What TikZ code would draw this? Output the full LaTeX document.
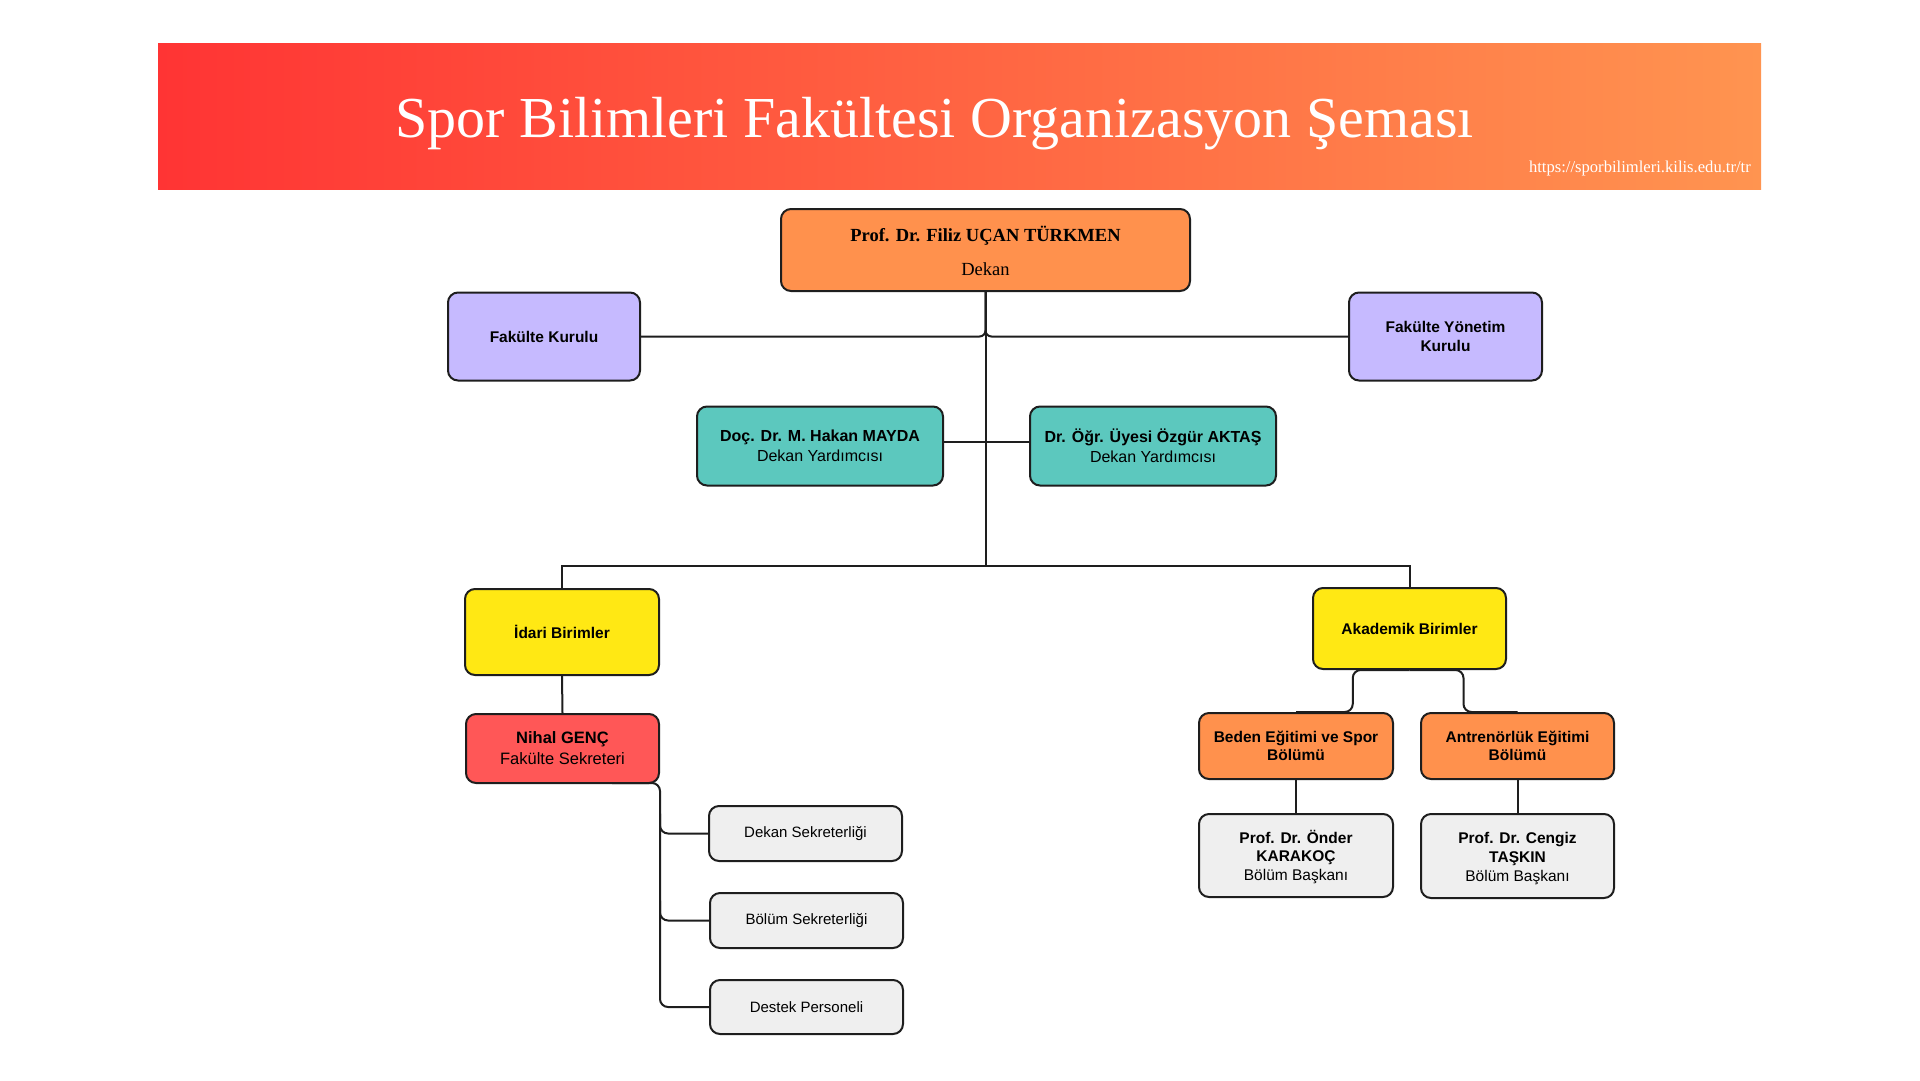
\documentclass[tikz,border=0pt]{standalone}
\usepackage{fontspec}
\setmainfont{Liberation Serif}
\setsansfont{Liberation Sans}
\usetikzlibrary{calc}
\definecolor{bordercol}{HTML}{1E1E1E}
\definecolor{hdrleft}{HTML}{FF3434}
\definecolor{hdrright}{HTML}{FF9450}
\definecolor{purplebox}{HTML}{C6BAFF}
\definecolor{tealbox}{HTML}{5CC8BE}
\definecolor{yellowbox}{HTML}{FFE814}
\definecolor{redbox}{HTML}{FF5757}
\definecolor{orangebox}{HTML}{FF914D}
\definecolor{graybox}{HTML}{EFEFEF}
\tikzset{
  box/.style={draw=bordercol, line width=2pt, rounded corners=10pt, inner sep=0pt,
    align=center, text=black, font=\sffamily\fontsize{15.5}{18.7}\selectfont},
  conn/.style={draw=bordercol, line width=2pt},
}
\begin{document}
\begin{tikzpicture}[x=1pt,y=-1pt]
\useasboundingbox (0,0) rectangle (1920,1080);
\fill[white] (0,0) rectangle (1920,1080);
% header
\shade[left color=hdrleft, right color=hdrright] (158,43) rectangle (1761,189);
\node[anchor=base, text=white, font=\fontsize{58}{60}\selectfont, inner sep=0pt] (title) at (934.5,137) {Spor Bilimleri Fakültesi Organizasyon Şeması};
\node[anchor=base east, text=white, font=\fontsize{16.6}{18}\selectfont, inner sep=0pt] (url) at (1751,172) {https://sporbilimleri.kilis.edu.tr/tr};

% nodes
\node[box, fill=orangebox, minimum width=409, minimum height=82, font=\fontsize{18.5}{34}\selectfont] (dean) at (985.5,250) {\rule{0pt}{18pt}\textbf{Prof. Dr. Filiz UÇAN TÜRKMEN}\\Dekan};
\node[box, fill=purplebox, minimum width=192, minimum height=88] (fk) at (544,336.5) {\textbf{Fakülte Kurulu}};
\node[box, fill=purplebox, minimum width=193, minimum height=88] (fyk) at (1445.5,336.5) {\textbf{Fakülte Yönetim}\\\textbf{Kurulu}};
\node[box, fill=tealbox, minimum width=246, minimum height=79, font=\sffamily\fontsize{16}{19.6}\selectfont] (dy1) at (820,446) {\textbf{Doç. Dr. M. Hakan MAYDA}\\Dekan Yardımcısı};
\node[box, fill=tealbox, minimum width=246, minimum height=79, font=\sffamily\fontsize{16}{19.6}\selectfont] (dy2) at (1153,446) {\textbf{Dr. Öğr. Üyesi Özgür AKTAŞ}\\Dekan Yardımcısı};
\node[box, fill=yellowbox, minimum width=194, minimum height=86] (idari) at (562,632) {\textbf{İdari Birimler}};
\node[box, fill=yellowbox, minimum width=193, minimum height=81] (akad) at (1409.5,628.5) {\textbf{Akademik Birimler}};
\node[box, fill=redbox, minimum width=193, minimum height=69, font=\sffamily\fontsize{16.5}{21}\selectfont] (nihal) at (562.5,748.5) {\textbf{Nihal GENÇ}\\Fakülte Sekreteri};
\node[box, fill=graybox, minimum width=193, minimum height=55, font=\sffamily\fontsize{15}{18}\selectfont] (ds) at (805.5,833.5) {Dekan Sekreterliği};
\node[box, fill=graybox, minimum width=193, minimum height=55, font=\sffamily\fontsize{15}{18}\selectfont] (bs) at (806.5,920.5) {Bölüm Sekreterliği};
\node[box, fill=graybox, minimum width=193, minimum height=54, font=\sffamily\fontsize{15}{18}\selectfont] (dp) at (806.5,1007) {Destek Personeli};
\node[box, fill=orangebox, minimum width=194, minimum height=66] (beden) at (1296,746) {\textbf{Beden Eğitimi ve Spor}\\\textbf{Bölümü}};
\node[box, fill=orangebox, minimum width=193, minimum height=66] (antr) at (1517.5,746) {\textbf{Antrenörlük Eğitimi}\\\textbf{Bölümü}};
\node[box, fill=graybox, minimum width=194, minimum height=83] (head1) at (1296,855.5) {\rule{0pt}{16pt}\textbf{Prof. Dr. Önder}\\\textbf{KARAKOÇ}\\Bölüm Başkanı};
\node[box, fill=graybox, minimum width=193, minimum height=84] (head2) at (1517.5,856) {\rule{0pt}{16pt}\textbf{Prof. Dr. Cengiz}\\\textbf{TAŞKIN}\\Bölüm Başkanı};

% coordinates
\coordinate (br) at (985.5,566);
\coordinate (nb) at (612,783);
\coordinate (trunk) at (660,783);

% connectors
\draw[conn, rounded corners=6pt] (dean.south) |- (fk.east);
\draw[conn, rounded corners=6pt] (dean.south) |- (fyk.west);
\draw[conn] (dean.south) -- (br);
\draw[conn] ($(dy1.east)+(0,-4)$) -- ($(dy2.west)+(0,-4)$);
\draw[conn] (idari.north) |- (br) -| (akad.north);
\draw[conn] (idari.south) -- (nihal.north);
\draw[conn, rounded corners=8pt] (nb) -| (trunk |- dp.west) -- (dp.west);
\draw[conn, rounded corners=8pt] ($(trunk |- ds.west)+(0,-20)$) |- (ds.west);
\draw[conn, rounded corners=8pt] ($(trunk |- bs.west)+(0,-20)$) |- (bs.west);
\draw[conn, rounded corners=8pt] (akad.south) -| ($(akad.south)!.5!(beden.north)$) |- (beden.north);
\draw[conn, rounded corners=8pt] (akad.south) -| ($(akad.south)!.5!(antr.north)$) |- (antr.north);
\draw[conn] (beden.south) -- (head1.north);
\draw[conn] (antr.south) -- (head2.north);
\end{tikzpicture}
\end{document}
